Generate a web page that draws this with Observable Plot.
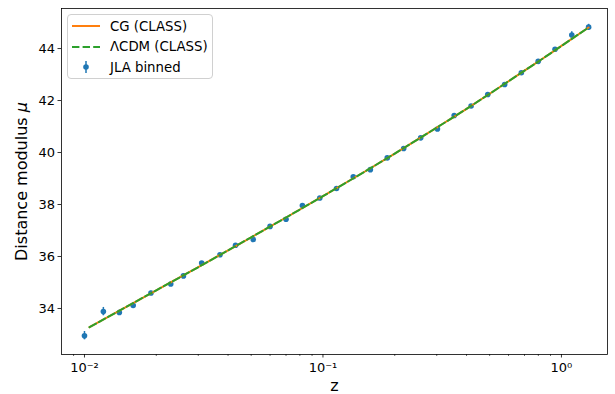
<!DOCTYPE html>
<html>
<head>
<meta charset="utf-8">
<script src="https://cdn.jsdelivr.net/npm/d3@7"></script>
<script src="https://cdn.jsdelivr.net/npm/@observablehq/plot@0.6"></script>
<style>
  html, body { margin: 0; padding: 0; background: #fff; }
  #wrap { position: relative; width: 615px; height: 394px; font-family: "DejaVu Sans", sans-serif; }
  #legend { position: absolute; left: 67px; top: 14px; width: 146px; height: 65px;
    border: 1px solid #d0d0d0; border-radius: 4px; background: rgba(255,255,255,0.8); box-sizing: border-box; }
  .li { position: absolute; left: 0; height: 20px; display: flex; align-items: center; font-size: 13.3px; color: #000; }
  .li svg { margin-left: 4px; margin-right: 10px; }
</style>
</head>
<body>
<div id="wrap"></div>
<script>
// JLA binned data
const zBin = [0.010, 0.012, 0.014, 0.016, 0.019, 0.023, 0.026, 0.031, 0.037, 0.043, 0.051, 0.060, 0.070, 0.082, 0.097, 0.114, 0.134, 0.158, 0.186, 0.218, 0.257, 0.302, 0.355, 0.418, 0.491, 0.578, 0.679, 0.799, 0.940, 1.105, 1.300];
const muBin = [32.954, 33.880, 33.843, 34.119, 34.594, 34.940, 35.253, 35.749, 36.070, 36.435, 36.651, 37.158, 37.430, 37.957, 38.253, 38.613, 39.068, 39.341, 39.792, 40.156, 40.565, 40.905, 41.422, 41.791, 42.231, 42.615, 43.066, 43.507, 43.971, 44.521, 44.822];
const sigBin = [0.16, 0.16, 0.10, 0.09, 0.07, 0.08, 0.07, 0.05, 0.05, 0.05, 0.07, 0.05, 0.06, 0.04, 0.04, 0.04, 0.04, 0.04, 0.03, 0.03, 0.03, 0.03, 0.03, 0.03, 0.04, 0.04, 0.04, 0.04, 0.06, 0.12, 0.11];

// Model curves
const zModel = [0.0105, 0.02, 0.03, 0.05, 0.07, 0.1, 0.15, 0.2, 0.3, 0.4, 0.5, 0.6, 0.7, 0.8, 1.0, 1.3];
const muCG = [33.28, 34.70, 35.59, 36.74, 37.50, 38.32, 39.27, 39.96, 40.96, 41.68, 42.26, 42.74, 43.15, 43.50, 44.10, 44.81];
const muLCDM = [33.28, 34.70, 35.59, 36.74, 37.50, 38.32, 39.27, 39.96, 40.96, 41.68, 42.26, 42.74, 43.15, 43.50, 44.10, 44.81];

const xMajor = [0.01, 0.1, 1];
const xMajorLabels = ["10\u207B\u00B2", "10\u207B\u00B9", "10\u2070"];
const yTicks = [34, 36, 38, 40, 42, 44];

const jla = zBin.map((z, i) => ({z, mu: muBin[i], lo: muBin[i] - sigBin[i], hi: muBin[i] + sigBin[i]}));
const cg = zModel.map((z, i) => ({z, mu: muCG[i]}));
const lcdm = zModel.map((z, i) => ({z, mu: muLCDM[i]}));

const xMinor = [];
for (const d of [0.001, 0.01, 0.1, 1]) for (let k = 2; k <= 9; k++) { const v = +(k * d).toPrecision(3); if (v > 0.008 && v < 1.56) xMinor.push(v); }

const blue = "#1f77b4", orange = "#ff7f0e", green = "#2ca02c";

const chart = Plot.plot({
  width: 615, height: 394,
  marginLeft: 61, marginRight: 8, marginTop: 8, marginBottom: 40,
  style: {fontFamily: "DejaVu Sans, sans-serif", fontSize: "13px", color: "#000", background: "#fff"},
  x: {type: "log", domain: [0.00801, 1.56]},
  y: {domain: [32.23, 45.54]},
  marks: [
    Plot.ruleX(jla, {x: "z", y1: "lo", y2: "hi", stroke: blue, strokeWidth: 1.5}),
    Plot.dot(jla, {x: "z", y: "mu", r: 2.8, fill: blue, stroke: "none"}),
    Plot.line(cg, {x: "z", y: "mu", stroke: orange, strokeWidth: 2, curve: "monotone-x"}),
    Plot.line(lcdm, {x: "z", y: "mu", stroke: green, strokeWidth: 2, strokeDasharray: "7.4,3.2", curve: "monotone-x"}),
    Plot.axisX({ticks: xMinor, tickSize: 2, tickFormat: () => "", label: null, stroke: "#000", strokeWidth: 0.6}),
    Plot.axisX({ticks: xMajor, tickSize: 3.5, tickPadding: 5, tickFormat: (d) => xMajorLabels[xMajor.indexOf(d)], fontSize: 13,
      label: "z", labelAnchor: "center", labelOffset: 36, labelArrow: "none", stroke: "#000", strokeWidth: 0.8}),
    Plot.axisY({ticks: yTicks, tickSize: 3.5, tickPadding: 3, fontSize: 13,
      label: "Distance modulus \u03BC", labelAnchor: "center", labelOffset: 46, labelArrow: "none", stroke: "#000", strokeWidth: 0.8}),
    Plot.frame({stroke: "#000", strokeWidth: 0.8})
  ]
});

const wrap = document.getElementById("wrap");
wrap.appendChild(chart);

// Style axis labels (font size and italic mu)
d3.select(chart).selectAll("g[aria-label='x-axis label'] text, g[aria-label='y-axis label'] text").each(function() {
  const t = d3.select(this);
  t.style("font-size", "16px");
  const s = t.text();
  if (s.indexOf("\u03BC") >= 0) {
    t.text("");
    t.append("tspan").text("Distance modulus ");
    t.append("tspan").style("font-style", "italic").text("\u03BC");
  }
});

// Legend
const legend = document.createElement("div");
legend.id = "legend";
const items = [
  {label: "CG (CLASS)", kind: "line", color: orange},
  {label: "\u039BCDM (CLASS)", kind: "dash", color: green},
  {label: "JLA binned", kind: "err", color: blue}
];
items.forEach((it, i) => {
  const row = document.createElement("div");
  row.className = "li";
  row.style.top = (1 + i * 20.5) + "px";
  let sym = "";
  if (it.kind === "line") sym = `<line x1="0" x2="28" y1="10" y2="10" stroke="${it.color}" stroke-width="2"/>`;
  if (it.kind === "dash") sym = `<line x1="0" x2="28" y1="10" y2="10" stroke="${it.color}" stroke-width="2" stroke-dasharray="7.4,3.2"/>`;
  if (it.kind === "err") sym = `<line x1="14" x2="14" y1="4" y2="16" stroke="${it.color}" stroke-width="1.5"/><circle cx="14" cy="10" r="2.8" fill="${it.color}"/>`;
  row.innerHTML = `<svg width="28" height="20">${sym}</svg><span>${it.label}</span>`;
  legend.appendChild(row);
});
wrap.appendChild(legend);
</script>
</body>
</html>
